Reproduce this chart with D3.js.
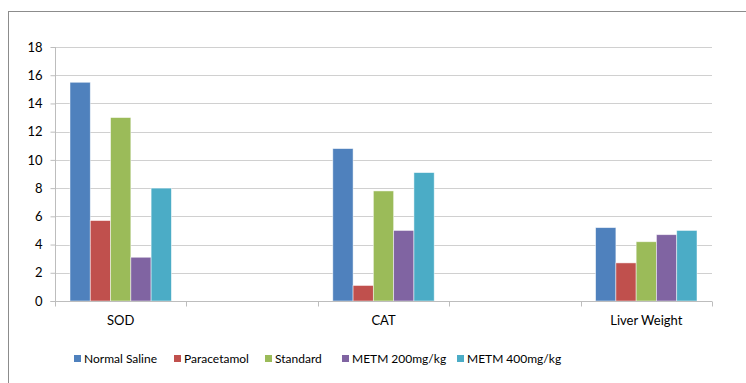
<!DOCTYPE html>
<html><head><meta charset="utf-8">
<script src="https://cdn.jsdelivr.net/npm/d3@7"></script>
<style>body{margin:0;background:#fff}svg{display:block}text{font-family:Lato,"Open Sans",sans-serif;fill:#000}</style>
</head><body><svg id="c" width="746" height="383"></svg>
<script>
const categories = ["SOD", "gap1", "CAT", "gap2", "Liver Weight"];
const categoryLabels = ["SOD", "", "CAT", "", "Liver Weight"];
const seriesNames = ["Normal Saline", "Paracetamol", "Standard", "METM 200mg/kg", "METM 400mg/kg"];
const normalSaline = [15.5, null, 10.8, null, 5.2];
const paracetamol = [5.7, null, 1.1, null, 2.7];
const standard = [13.0, null, 7.8, null, 4.2];
const metm200 = [3.1, null, 5.0, null, 4.7];
const metm400 = [8.0, null, 9.1, null, 5.0];
const yTicks = [0, 2, 4, 6, 8, 10, 12, 14, 16, 18];
const colors = ["#4F81BD", "#C0504D", "#9BBB59", "#8064A2", "#4BACC6"];
const seriesValues = [normalSaline, paracetamol, standard, metm200, metm400];

const svg = d3.select("#c");
// frame
svg.append("rect").attr("x", 8.5).attr("y", 11.5).attr("width", 760).attr("height", 400)
  .attr("fill", "none").attr("stroke", "#8c8c8c").attr("stroke-width", 1);

const L = 55, R = 712, T = 47, B = 301;
const x = d3.scaleBand().domain(categories).range([L, R]).paddingInner(0).paddingOuter(0);
const xs = d3.scaleBand().domain(seriesNames).range([0, x.bandwidth()]).paddingInner(0).paddingOuter(0.74);
const y = d3.scaleLinear().domain([0, 18]).range([B, T]);

// gridlines
svg.append("g").selectAll("line").data(yTicks.filter(d => d > 0)).join("line")
  .attr("x1", L).attr("x2", R).attr("y1", d => Math.round(y(d)) + 0.5).attr("y2", d => Math.round(y(d)) + 0.5)
  .attr("stroke", "#d0d0d0").attr("stroke-width", 1.2);

// y axis
const ya = svg.append("g").attr("transform", `translate(${L + 0.5},0)`)
  .call(d3.axisLeft(y).tickValues(yTicks).tickSize(5).tickPadding(8));
ya.select(".domain").attr("stroke", "#bdbdbd").attr("d", `M-5,${B + 0.5}H0V${T}`);
ya.selectAll(".tick line").attr("stroke", "#bdbdbd");
ya.selectAll(".tick text").attr("font-size", 13).attr("font-family", "Lato,'Open Sans',sans-serif").attr("fill", "#000");

// bars
const groups = svg.append("g").selectAll("g").data(seriesNames).join("g").attr("fill", (d, i) => colors[i]);
groups.selectAll("rect").data((s, i) => categories.map((c, j) => ({ c, s, v: seriesValues[i][j] })).filter(d => d.v != null))
  .join("rect")
  .attr("x", d => x(d.c) + xs(d.s))
  .attr("width", xs.bandwidth())
  .attr("y", d => y(d.v))
  .attr("height", d => B - y(d.v))
  .attr("stroke", "rgba(255,255,255,0.6)").attr("stroke-width", 0.8);

// x axis
const xa = svg.append("g").attr("transform", `translate(0,${B + 0.5})`);
xa.append("line").attr("x1", L).attr("x2", R).attr("stroke", "#bdbdbd").attr("stroke-width", 1.2);
const boundaries = [L].concat(categories.map(c => x(c) + x.bandwidth()));
xa.selectAll(".tk").data(boundaries).join("line").attr("class", "tk")
  .attr("x1", d => Math.round(d) + 0.5).attr("x2", d => Math.round(d) + 0.5).attr("y1", 0).attr("y2", 5)
  .attr("stroke", "#bdbdbd");
xa.selectAll("text").data(categories).join("text")
  .attr("x", d => x(d) + x.bandwidth() / 2).attr("y", 23)
  .attr("text-anchor", "middle").attr("font-size", 13)
  .text((d, i) => categoryLabels[i]);

// legend
const legendX = [74, 174, 265, 342, 457];
const lg = svg.append("g").selectAll("g").data(seriesNames).join("g")
  .attr("transform", (d, i) => `translate(${legendX[i]},359)`);
lg.append("rect").attr("x", 0).attr("y", -4).attr("width", 7).attr("height", 7).attr("fill", (d, i) => colors[i]);
lg.append("text").attr("x", 10).attr("y", 0).attr("dy", "0.35em").attr("font-size", 12).text(d => d);
</script></body></html>
